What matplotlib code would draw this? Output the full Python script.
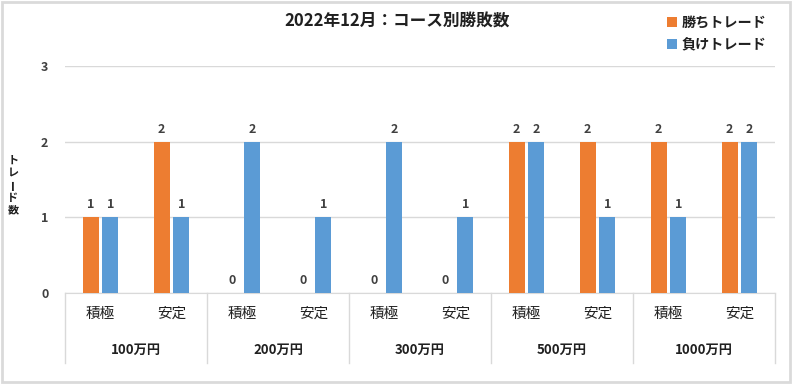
import numpy as np
import matplotlib.pyplot as plt
from matplotlib.patches import Rectangle
import matplotlib.transforms as mtransforms

plt.rcParams['font.family'] = ['Noto Sans CJK JP', 'DejaVu Sans']

groups = ['100万円', '200万円', '300万円', '500万円', '1000万円']
courses = ['積極', '安定']
wins = [1, 2, 0, 0, 0, 0, 2, 2, 2, 2]
losses = [1, 1, 2, 1, 2, 1, 2, 1, 1, 2]

orange = '#ED7D31'
blue = '#5B9BD5'
grid_c = '#D9D9D9'
txt_c = '#404040'

fig = plt.figure(figsize=(7.93, 3.84), dpi=100)
fig.patches.append(Rectangle((0.002, 0.004), 0.994, 0.99, transform=fig.transFigure,
                             fill=False, edgecolor='#DADADA', linewidth=2))
ax = fig.add_axes([65 / 793, 1 - 293 / 384, 710 / 793, 227 / 384])

n = len(wins)
x = np.arange(n) + 0.5
w = 0.225
off = 0.14
b1 = ax.bar(x - off, wins, w, color=orange, label='勝ちトレード', zorder=3)
b2 = ax.bar(x + off, losses, w, color=blue, label='負けトレード', zorder=3)
for bars in (b1, b2):
    for r in bars:
        h = r.get_height()
        ax.text(r.get_x() + r.get_width() / 2, h + 0.08, str(h), ha='center', va='bottom',
                fontsize=9, fontweight='bold', color=txt_c)

ax.set_xlim(0, n)
ax.set_ylim(0, 3)
ax.set_yticks([0, 1, 2, 3])
ax.yaxis.grid(True, color=grid_c, linewidth=1, zorder=0)
ax.set_axisbelow(True)
for s in ['top', 'right', 'left']:
    ax.spines[s].set_visible(False)
ax.spines['bottom'].set_color(grid_c)
ax.tick_params(axis='y', length=0, pad=12, labelsize=9, labelcolor=txt_c)
for t in ax.get_yticklabels():
    t.set_fontweight('bold')
ax.set_xticks([])

# two-level category axis
trans = mtransforms.blended_transform_factory(ax.transData, ax.transAxes)
ng = len(groups)
per = len(courses)
for i in range(n):
    ax.text(x[i], -0.09, courses[i % per], transform=trans, ha='center', va='center',
            fontsize=10.5, color='#202020')
for g in range(ng):
    ax.text(g * per + per / 2, -0.25, groups[g], transform=trans, ha='center', va='center',
            fontsize=9.5, fontweight='bold', color='#202020')
for g in range(ng + 1):
    ax.plot([g * per, g * per], [0, -0.31], transform=trans, color=grid_c, lw=1, clip_on=False)

fig.text(397 / 793, 1 - 22 / 384, '2022年12月：コース別勝敗数', ha='center', va='center',
         fontsize=12, fontweight='bold', color='#202020')

# vertical y label, one character per line
ylab = ['ト', 'レ', 'ー', 'ド', '数']
ys = [160, 172, 184, 197, 210]
for ch, yy in zip(ylab, ys):
    fig.text(13 / 793, 1 - yy / 384, ch, ha='center', va='center', fontsize=8,
             fontweight='bold', color='#202020', rotation=90 if ch == 'ー' else 0,
             rotation_mode='anchor')

leg = fig.legend(handles=[b1, b2], loc='upper left', bbox_to_anchor=(654 / 793, 1 - 3 / 384),
                 frameon=False, handlelength=0.7, handleheight=0.7, handletextpad=0.35,
                 labelspacing=0.6, prop={'size': 10.2, 'weight': 'bold'})
for t in leg.get_texts():
    t.set_color('#202020')

fig.savefig('out.png', dpi=100)
